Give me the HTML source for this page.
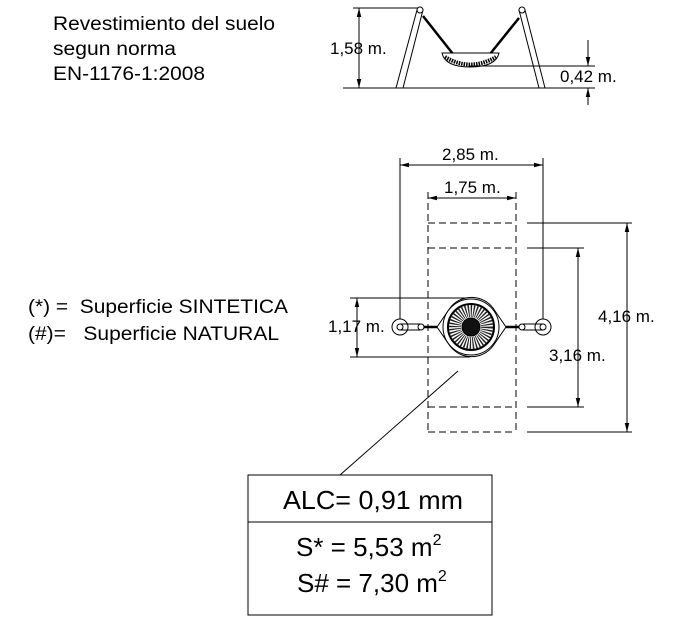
<!DOCTYPE html>
<html><head><meta charset="utf-8"><style>
html,body{margin:0;padding:0;background:#fff}
svg{display:block}
text{font-family:"Liberation Sans",Arial,sans-serif;fill:#000;white-space:pre}
</style></head><body>
<svg width="700" height="619" viewBox="0 0 700 619" xmlns="http://www.w3.org/2000/svg">
<defs>
<marker id="a" viewBox="0 0 10 10" refX="10" refY="5" markerWidth="9" markerHeight="9" orient="auto-start-reverse" markerUnits="userSpaceOnUse"><path d="M0,2.5 L10,5 L0,7.5 Z" fill="#000"/></marker>
</defs>
<g font-size="19">
<text x="53" y="30" textLength="222" lengthAdjust="spacingAndGlyphs">Revestimiento del suelo</text>
<text x="53" y="55" textLength="123" lengthAdjust="spacingAndGlyphs">segun norma</text>
<text x="53" y="80" textLength="152" lengthAdjust="spacingAndGlyphs">EN-1176-1:2008</text>
<text x="28" y="313" textLength="260" lengthAdjust="spacingAndGlyphs">(*) =  Superficie SINTETICA</text>
<text x="28" y="340" textLength="251" lengthAdjust="spacingAndGlyphs">(#)=   Superficie NATURAL</text>
</g>
<!-- elevation -->
<g stroke="#000" fill="none" stroke-width="1">
<line x1="343" y1="88" x2="595" y2="88"/>
<path d="M417,10 L423,10 L403,88 L396,88 Z" fill="#fff"/>
<circle cx="420" cy="10" r="3" fill="#fff"/>
<path d="M519,10 L525,10 L545,88 L539,88 Z" fill="#fff"/>
<circle cx="522" cy="10" r="3" fill="#fff"/>
<line x1="423" y1="16" x2="453" y2="54" stroke-width="2.5"/>
<line x1="519" y1="18" x2="490" y2="54" stroke-width="2.5"/>
<path d="M442,53 L499,53 Q496,67 470,67 Q445,67 442,53 Z" fill="#fff"/>
<path d="M445,57 Q470,72 496,57" stroke-width="4" stroke-dasharray="1.5 1"/>
<line x1="353" y1="8" x2="418" y2="8"/>
<line x1="359" y1="8" x2="359" y2="88" marker-start="url(#a)" marker-end="url(#a)"/>
<line x1="470" y1="66" x2="595" y2="66"/>
<line x1="588" y1="40" x2="588" y2="66" marker-end="url(#a)"/>
<line x1="588" y1="105" x2="588" y2="88" marker-end="url(#a)"/>
</g>
<text x="330" y="54" font-size="17">1,58 m.</text>
<text x="560" y="82" font-size="17">0,42 m.</text>
<!-- plan -->
<g stroke="#000" fill="none" stroke-width="1">
<line x1="400" y1="158" x2="400" y2="320"/>
<line x1="543" y1="158" x2="543" y2="320"/>
<line x1="400" y1="165" x2="543" y2="165" marker-start="url(#a)" marker-end="url(#a)"/>
<line x1="428" y1="198" x2="516" y2="198" marker-start="url(#a)" marker-end="url(#a)"/>
<g stroke-dasharray="7 4">
<line x1="428" y1="192" x2="428" y2="432"/>
<line x1="516" y1="192" x2="516" y2="432"/>
<line x1="428" y1="223" x2="516" y2="223"/>
<line x1="428" y1="248" x2="516" y2="248"/>
<line x1="428" y1="407" x2="516" y2="407"/>
<line x1="428" y1="432" x2="516" y2="432"/>
</g>
<line x1="527" y1="223" x2="632" y2="223"/>
<line x1="527" y1="432" x2="632" y2="432"/>
<line x1="627" y1="223" x2="627" y2="432" marker-start="url(#a)" marker-end="url(#a)"/>
<line x1="527" y1="248" x2="584" y2="248"/>
<line x1="527" y1="407" x2="584" y2="407"/>
<line x1="578" y1="248" x2="578" y2="407" marker-start="url(#a)" marker-end="url(#a)"/>
<line x1="350" y1="298" x2="470" y2="298"/>
<line x1="350" y1="357" x2="470" y2="357"/>
<line x1="357" y1="298" x2="357" y2="357" marker-start="url(#a)" marker-end="url(#a)"/>
<circle cx="400" cy="327" r="8" fill="#fff"/>
<circle cx="400" cy="327" r="3"/>
<circle cx="543" cy="327" r="8" fill="#fff"/>
<circle cx="543" cy="327" r="3"/>
<line x1="400" y1="324" x2="420" y2="324"/><line x1="400" y1="330" x2="420" y2="330"/>
<line x1="523" y1="324" x2="543" y2="324"/><line x1="523" y1="330" x2="543" y2="330"/>
<circle cx="421" cy="327" r="3" fill="#fff"/>
<circle cx="522" cy="327" r="3" fill="#fff"/>
<line x1="424" y1="327" x2="437" y2="327" stroke-width="2.5"/>
<line x1="506" y1="327" x2="519" y2="327" stroke-width="2.5"/>
<path d="M437,327 L450,308 A27,27 0 0 1 493,308 L506,327 L493,346 A27,27 0 0 1 450,346 Z" fill="#fff"/>
<circle cx="471" cy="327" r="28" fill="#fff"/>
<circle cx="471" cy="327" r="23" stroke-width="2"/>
<circle cx="471" cy="327" r="16" stroke-width="12" stroke-dasharray="1.2 1.3" stroke="#222"/>
<circle cx="471" cy="327" r="9" fill="#111"/>
<line x1="458" y1="371" x2="340" y2="475"/>
<rect x="248" y="475" width="244" height="140"/>
<line x1="248" y1="522" x2="492" y2="522"/>
</g>
<g font-size="17">
<text x="442" y="160">2,85 m.</text>
<text x="444" y="193">1,75 m.</text>
<text x="598" y="322">4,16 m.</text>
<text x="549" y="361">3,16 m.</text>
<text x="328" y="332">1,17 m.</text>
</g>
<g font-size="26">
<text x="283" y="509" textLength="180" lengthAdjust="spacingAndGlyphs">ALC= 0,91 mm</text>
<text x="296" y="556">S* = 5,53 m<tspan font-size="16" dy="-11">2</tspan></text>
<text x="297" y="592">S# = 7,30 m<tspan font-size="16" dy="-11">2</tspan></text>
</g>
</svg>
</body></html>
